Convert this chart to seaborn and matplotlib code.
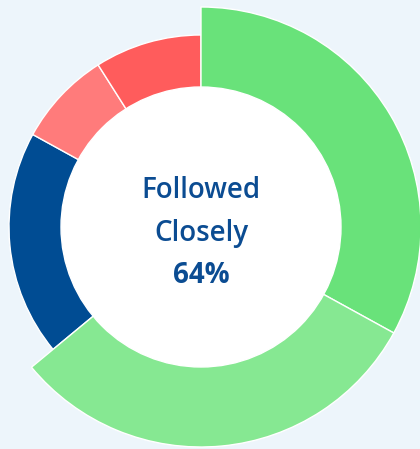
import matplotlib.pyplot as plt
import seaborn as sns

# share of respondents per answer, clockwise from 12 o'clock
answers = ["Very closely", "Fairly closely", "Not too closely", "Not at all closely", "Don't know"]
shares = [33, 31, 19, 8, 9]
slice_colors = ["#69E27A", "#86E892", "#004C93", "#FF7B7B", "#FF5C5C"]
followed = [True, True, False, False, False]
center_lines = ["Followed", "Closely"]
center_value = "64%"

BG = "#EDF5FB"
TEXT = "#0B4C92"

sns.set_theme(style="white")
plt.rcParams["font.family"] = ["Open Sans", "DejaVu Sans"]

fig = plt.figure(figsize=(4.2, 4.49), dpi=100)
fig.patch.set_facecolor(BG)
ax = fig.add_axes([0, 0, 1, 1])
ax.set_facecolor(BG)

# radii in pixels: followed slices stick out of the ring
R_BIG, R_STD, R_HOLE = 220, 192, 140

for big, radius in [(False, R_STD), (True, R_BIG)]:
    wedges, _ = ax.pie(shares, radius=radius, colors=slice_colors,
                       startangle=90, counterclock=False,
                       wedgeprops={"edgecolor": "white", "linewidth": 1})
    for w, f in zip(wedges, followed):
        w.set_visible(f == big)

ax.add_patch(plt.Circle((0, 0), R_HOLE, color="white", zorder=5))

ax.text(0, 29, center_lines[0], ha="center", va="baseline", fontsize=20,
        fontweight="semibold", color=TEXT, zorder=6)
ax.text(0, -14, center_lines[1], ha="center", va="baseline", fontsize=20,
        fontweight="semibold", color=TEXT, zorder=6)
ax.text(0, -56, center_value, ha="center", va="baseline", fontsize=20,
        fontweight="bold", color=TEXT, zorder=6)

ax.set_xlim(-201, 219)
ax.set_ylim(-222, 227)
ax.set_aspect("equal")
ax.axis("off")

fig.savefig("out.png", dpi=100, facecolor=BG)
